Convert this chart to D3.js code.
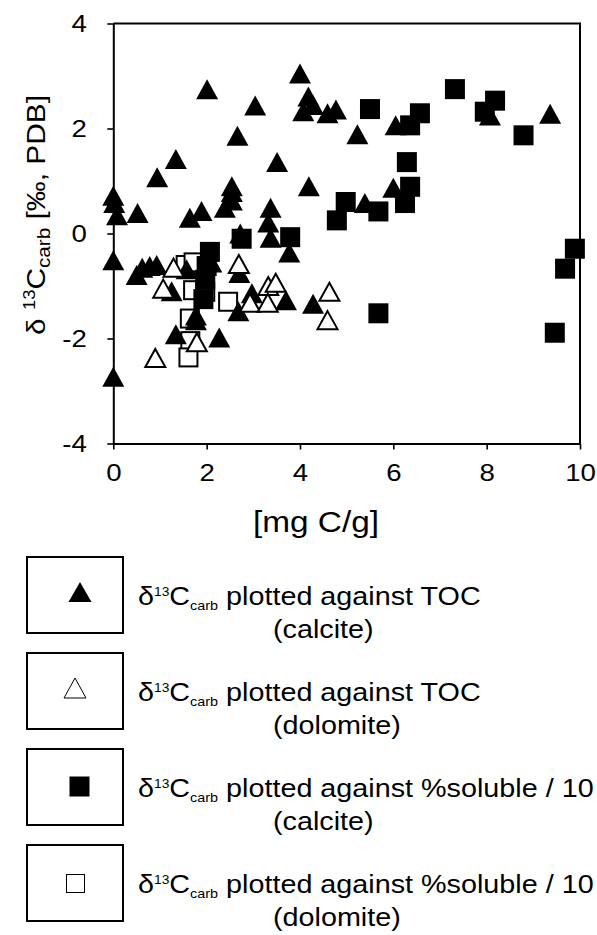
<!DOCTYPE html>
<html>
<head>
<meta charset="utf-8">
<script src="https://cdn.jsdelivr.net/npm/d3@7"></script>
<style>
  body { margin: 0; background: #fff; }
  text { font-family: "Liberation Sans", Arial, sans-serif; fill: #000; }
</style>
</head>
<body>
<div id="chart"></div>
<script>
// d13C carb vs TOC (calcite) -- filled triangles
var calciteToc = [
  [0.0, 0.72], [0.02, 0.58], [0.08, 0.35], [0.52, 0.39], [0.94, 1.07], [1.34, 1.42],
  [2.01, 2.75], [3.04, 2.44], [2.66, 1.86], [4.0, 3.05], [4.18, 2.61], [4.07, 2.33],
  [4.28, 2.45], [4.59, 2.29], [4.77, 2.36], [5.23, 1.89], [6.05, 2.06], [8.07, 2.25],
  [9.36, 2.28], [3.51, 1.36], [4.19, 0.9], [2.54, 0.9], [2.54, 0.79], [2.54, 0.63],
  [2.39, 0.49], [1.64, 0.3], [1.89, 0.43], [3.37, 0.49], [3.32, 0.21], [3.37, -0.08],
  [3.77, -0.36], [6.0, 0.87], [5.39, 0.58], [2.72, 0.0],
  [0.0, -0.51], [0.0, -2.73], [0.5, -0.79], [0.62, -0.65], [0.78, -0.62], [0.93, -0.6],
  [1.25, -1.1], [1.34, -1.92], [1.57, -0.68], [1.77, -1.56], [1.77, -1.65], [2.27, -1.98],
  [2.1, -0.55], [2.7, -0.75], [2.68, -1.48], [2.97, -1.14], [3.7, -1.27], [4.28, -1.34]
];
// d13C carb vs TOC (dolomite) -- open triangles
var dolomiteToc = [
  [1.29, -0.65], [1.07, -1.05], [0.9, -2.37], [1.79, -2.07], [2.69, -0.58], [2.93, -1.32],
  [3.32, -1.0], [3.48, -0.94], [3.31, -1.32], [4.63, -1.11], [4.59, -1.65]
];
// d13C carb vs %soluble / 10 (calcite) -- filled squares
var calciteSol = [
  [7.32, 2.75], [5.5, 2.37], [8.18, 2.53], [7.96, 2.32], [8.79, 1.87], [6.57, 2.29],
  [6.36, 2.06], [6.29, 1.36], [6.36, 0.89], [6.25, 0.58], [5.68, 0.42], [4.98, 0.6],
  [4.79, 0.25], [3.79, -0.07], [2.75, -0.1], [2.07, -0.35], [2.0, -0.62], [1.97, -0.88],
  [1.93, -1.25], [5.68, -1.52], [9.89, -0.29], [9.68, -0.67], [9.46, -1.89]
];
// d13C carb vs %soluble / 10 (dolomite) -- open squares
var dolomiteSol = [
  [1.55, -0.6], [1.72, -0.55], [1.71, -1.08], [1.97, -1.11], [2.46, -1.3],
  [1.64, -1.62], [1.65, -2.05], [1.61, -2.36]
];

var xTicks = [0, 2, 4, 6, 8, 10];
var yTicks = [-4, -2, 0, 2, 4];
var legendMain = ["plotted against TOC", "plotted against TOC",
                  "plotted against %soluble / 10", "plotted against %soluble / 10"];
var legendSub = ["(calcite)", "(dolomite)", "(calcite)", "(dolomite)"];
var legendKind = ["triFill", "triOpen", "sqFill", "sqOpen"];

var width = 597, height = 935;
var stretch = 1.15;

var svg = d3.select("#chart")
  .append("svg")
    .attr("width", width)
    .attr("height", height);

var x = d3.scaleLinear().domain([0, 10]).range([113.3, 580]);
var y = d3.scaleLinear().domain([-4, 4]).range([443.5, 23.5]);

// triangle path centred on its bounding box
function tri(cx, cy, w, h) {
  return "M" + cx + "," + (cy - h / 2) + "L" + (cx + w / 2) + "," + (cy + h / 2) +
    "L" + (cx - w / 2) + "," + (cy + h / 2) + "Z";
}

// frame (top and right)
svg.append("path")
  .attr("d", "M" + x(0) + "," + y(4) + "H" + x(10) + "V" + y(-4))
  .attr("fill", "none")
  .attr("stroke", "#000")
  .attr("stroke-width", 2);

// axes (plain hyphen for negatives)
var fmt = function (d) { return String(d); };
var xAxis = svg.append("g")
  .attr("transform", "translate(0," + y(-4) + ")")
  .call(d3.axisBottom(x).tickValues(xTicks).tickFormat(fmt)
    .tickSize(6).tickSizeOuter(0).tickPadding(14));
var yAxis = svg.append("g")
  .attr("transform", "translate(" + x(0) + ",0)")
  .call(d3.axisLeft(y).tickValues(yTicks).tickFormat(fmt)
    .tickSize(6).tickSizeOuter(0).tickPadding(17));

[xAxis, yAxis].forEach(function (a) {
  a.select(".domain").attr("stroke-width", 2);
  a.selectAll(".tick line").attr("stroke-width", 1.6);
  a.selectAll(".tick text")
    .style("font-size", "24px")
    .style("font-family", "'Liberation Sans', Arial, sans-serif")
    .attr("transform", "scale(" + stretch + ",1)");
});
xAxis.selectAll(".tick text").attr("dy", "0.71em");
yAxis.selectAll(".tick text").attr("dy", "0.35em");

// x title
svg.append("text")
  .attr("transform", "translate(316,532) scale(" + stretch + ",1)")
  .attr("text-anchor", "middle")
  .style("font-size", "29px")
  .text("[mg C/g]");

// y title
var yt = svg.append("text")
  .attr("transform", "translate(45,215) rotate(-90) scale(" + stretch + ",1)")
  .attr("text-anchor", "middle")
  .style("font-size", "26px");
yt.append("tspan").text("\u03b4 ");
yt.append("tspan").attr("dy", -10).style("font-size", "16px").text("13");
yt.append("tspan").attr("dy", 10).text("C");
yt.append("tspan").attr("dy", 5).style("font-size", "18px").text("carb");
yt.append("tspan").attr("dy", -5).text(" [\u2030, PDB]");

// markers
svg.append("g").selectAll("rect")
  .data(dolomiteSol)
  .enter().append("rect")
    .attr("x", function (d) { return x(d[0]) - 9; })
    .attr("y", function (d) { return y(d[1]) - 9; })
    .attr("width", 18)
    .attr("height", 18)
    .attr("fill", "#fff")
    .attr("stroke", "#000")
    .attr("stroke-width", 2);

svg.append("g").selectAll("path")
  .data(calciteToc)
  .enter().append("path")
    .attr("d", function (d) { return tri(x(d[0]), y(d[1]), 22, 20); })
    .attr("fill", "#000");

svg.append("g").selectAll("rect")
  .data(calciteSol)
  .enter().append("rect")
    .attr("x", function (d) { return x(d[0]) - 10; })
    .attr("y", function (d) { return y(d[1]) - 10; })
    .attr("width", 20)
    .attr("height", 20)
    .attr("fill", "#000");

svg.append("g").selectAll("path")
  .data(dolomiteToc)
  .enter().append("path")
    .attr("d", function (d) { return tri(x(d[0]), y(d[1]), 20, 18); })
    .attr("fill", "#fff")
    .attr("stroke", "#000")
    .attr("stroke-width", 2)
    .attr("stroke-linejoin", "miter");

// legend
var legendTop = 557, legendStep = 96, boxH = 76;
var leg = svg.append("g").selectAll("g")
  .data(legendKind)
  .enter().append("g")
    .attr("transform", function (d, i) { return "translate(0," + (legendTop + i * legendStep) + ")"; });

leg.append("rect")
  .attr("x", 27).attr("y", 0)
  .attr("width", 96).attr("height", boxH)
  .attr("fill", "#fff")
  .attr("stroke", "#000")
  .attr("stroke-width", 2);

leg.each(function (k) {
  var g = d3.select(this), cy = boxH / 2;
  if (k === "triFill") g.append("path").attr("d", tri(80, cy - 3, 23, 20)).attr("fill", "#000");
  if (k === "triOpen") g.append("path").attr("d", tri(75, cy - 3, 22, 20))
    .attr("fill", "#fff").attr("stroke", "#000").attr("stroke-width", 1);
  if (k === "sqFill") g.append("rect").attr("x", 69.5).attr("y", cy - 10.5)
    .attr("width", 20).attr("height", 20).attr("fill", "#000");
  if (k === "sqOpen") g.append("rect").attr("x", 66.5).attr("y", cy - 8.5)
    .attr("width", 18).attr("height", 18).attr("fill", "#fff")
    .attr("stroke", "#000").attr("stroke-width", 1);
});

leg.each(function (k, i) {
  var g = d3.select(this), cy = boxH / 2;
  var t = g.append("text")
    .attr("transform", "translate(138," + (cy + 10) + ") scale(" + stretch + ",1)")
    .style("font-size", "25px");
  t.append("tspan").text("\u03b4");
  t.append("tspan").attr("dy", -9).style("font-size", "12px").text("13");
  t.append("tspan").attr("dy", 9).text("C");
  t.append("tspan").attr("dy", 5).style("font-size", "12.5px").text("carb");
  t.append("tspan").attr("dy", -5).text(" " + legendMain[i]);

  g.append("text")
    .attr("transform", "translate(273," + (cy + 43) + ") scale(" + stretch + ",1)")
    .style("font-size", "25px")
    .text(legendSub[i]);
});
</script>
</body>
</html>
